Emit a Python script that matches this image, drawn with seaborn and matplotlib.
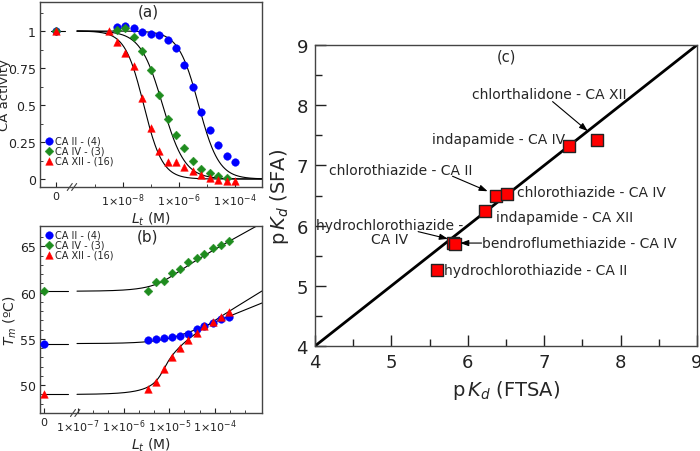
import numpy as np
import pandas as pd
import seaborn as sns
import matplotlib.pyplot as plt

# ---------------- panel (a): CA activity vs total ligand concentration (M)
conc_a = [3.1e-9, 6.1e-9, 1.22e-8, 2.44e-8, 4.9e-8, 9.8e-8, 1.95e-7, 3.9e-7,
          7.8e-7, 1.56e-6, 3.13e-6, 6.25e-6, 1.25e-5, 2.5e-5, 5e-5, 1e-4]
act_ca2 = [1.03, 1.035, 1.02, 0.99, 0.98, 0.975, 0.94, 0.885, 0.77, 0.625,
           0.455, 0.333, 0.23, 0.157, 0.117]                      # conc_a[1:]
act_ca4 = [1.01, 1.018, 0.957, 0.867, 0.739, 0.57, 0.405, 0.30, 0.207,
           0.124, 0.07, 0.04, 0.017, 0.005]                       # conc_a[1:15]
act_ca12 = [1.0, 0.923, 0.851, 0.761, 0.547, 0.345, 0.19, 0.115, 0.118,
            0.083, 0.051, 0.024, 0.007, -0.006, -0.011, -0.016]   # conc_a
act_zero = [1.0, 1.0, 1.0]
ic50_a = [5.0e-6, 2.6e-7, 5.5e-8]
hill_a = [1.2, 1.1, 1.3]

# ---------------- panel (b): Tm vs total ligand concentration (M)
conc_b = [3.5e-6, 5.2e-6, 7.8e-6, 1.17e-5, 1.76e-5, 2.63e-5, 3.95e-5,
          5.9e-5, 8.9e-5, 1.33e-4, 2e-4]
tm_ca2 = [54.9, 54.97, 55.08, 55.22, 55.33, 55.58, 56.05, 56.41, 56.77, 57.13, 57.42]
tm_ca4 = [60.15, 61.2, 61.3, 62.1, 62.6, 63.3, 63.7, 64.2, 64.85, 65.2, 65.6]
tm_ca12 = [49.6, 50.35, 51.7, 53.1, 54.05, 54.9, 55.6, 56.35, 56.8, 57.4, 57.95]
tm_zero = [54.5, 60.15, 49.0]
# fit params: slope per decade, Kd (M), protein conc (M)
slope_b = [2.0, 2.7, 3.0]
kd_b = [6.9e-6, 2.0e-6, 2.0e-7]
prot_b = [7e-6, 7e-6, 7e-6]

series = ['CA II - (4)', 'CA IV - (3)', 'CA XII - (16)']
colors = ['#0000ff', '#1e8c1e', '#ff0000']
markers = ['o', 'D', '^']

# ---------------- panel (c): pKd SFA vs FTSA
pkd_ftsa = [7.69, 7.33, 6.37, 6.51, 6.23, 5.80, 5.83, 5.60]
pkd_sfa = [7.43, 7.33, 6.50, 6.52, 6.24, 5.71, 5.69, 5.26]
pairs = ['chlorthalidone - CA XII', 'indapamide - CA IV', 'chlorothiazide - CA II',
         'chlorothiazide - CA IV', 'indapamide - CA XII', 'hydrochlorothiazide -\nCA IV',
         'bendroflumethiazide - CA IV', 'hydrochlorothiazide - CA II']


def hill(L, ic50, n):
    return 1.0 / (1.0 + (L / ic50) ** n)


def tm_fit(L, t0, s, kd, p):
    b = L - p - kd
    lf = 0.5 * (b + np.sqrt(b * b + 4 * kd * L))
    return t0 + s * np.log10(1 + lf / kd)


sns.set_style('ticks')
plt.rcParams['font.family'] = ['DejaVu Sans']
plt.rcParams['axes.edgecolor'] = '#444444'
plt.rcParams['axes.linewidth'] = 1.0

fig = plt.figure(figsize=(7, 4.52), dpi=100)
ax_a = fig.add_axes([40 / 700, 1 - 188 / 452, 222 / 700, 185 / 452])
ax_b = fig.add_axes([40 / 700, 1 - 414 / 452, 222 / 700, 187 / 452])
ax_c = fig.add_axes([315 / 700, 1 - 347 / 452, 382 / 700, 301 / 452])

ZERO_A, BREAK_A, START_A = -10.39, -9.82, -9.64
XLIM_A = (-10.96, -3.04)
ZERO_B, BREAK_B, START_B = -7.74, -7.06, -7.02
XLIM_B = (-7.83, -2.97)


def break_marks(ax, pos, px_per_unit, ax_h_px):
    tr = ax.get_xaxis_transform()
    for off in (-2.2, 2.2):
        c = pos + off / px_per_unit
        ax.plot([c - 2.5 / px_per_unit, c + 2.5 / px_per_unit],
                [-3.5 / ax_h_px, 3.5 / ax_h_px], transform=tr, color='#444444',
                lw=0.8, clip_on=False)


def legend_small(ax, **kw):
    ax.legend(frameon=False, fontsize=7, labelspacing=0.0, handletextpad=0.05,
              handlelength=1.0, borderpad=0.2, **kw)


# ---- panel (a)
a_sets = [(conc_a[1:], act_ca2), (conc_a[1:15], act_ca4), (conc_a, act_ca12)]
u_a = np.linspace(START_A, XLIM_A[1], 300)
for i in range(3):
    curve = pd.DataFrame({'x': u_a, 'y': hill(10 ** u_a, ic50_a[i], hill_a[i])})
    sns.lineplot(data=curve, x='x', y='y', ax=ax_a, color='black', lw=0.8,
                 estimator=None, sort=False)
ax_a.plot([ZERO_A - 0.18, ZERO_A + 0.32], [1, 1], color='black', lw=0.8)
for i in range(3):
    c, v = a_sets[i]
    sz = 20 if markers[i] == 'D' else 30
    df = pd.DataFrame({'x': np.log10(c), 'y': v})
    sns.scatterplot(data=df, x='x', y='y', ax=ax_a, color=colors[i], marker=markers[i],
                    s=sz, edgecolor=colors[i], linewidth=0.3, label=series[i], zorder=3)
    sns.scatterplot(x=[ZERO_A], y=[act_zero[i]], ax=ax_a, color=colors[i],
                    marker=markers[i], s=sz, edgecolor=colors[i], linewidth=0.3, zorder=3)
ax_a.set_xlim(*XLIM_A)
ax_a.set_ylim(-0.054, 1.196)
ax_a.set_xticks([ZERO_A, -8, -6, -4])
ax_a.set_xticklabels(['0', r'1$\times$10$^{-8}$', r'1$\times$10$^{-6}$', r'1$\times$10$^{-4}$'])
ax_a.set_xticks([-9, -7, -5], minor=True)
ax_a.set_yticks([0, 0.25, 0.5, 0.75, 1])
ax_a.set_yticklabels(['0', '0.25', '0.5', '0.75', '1'])
ax_a.set_yticks(np.arange(0.125, 1.2, 0.25), minor=True)
ax_a.set_xlabel(r'$L_t$ (M)', fontsize=10, labelpad=1)
ax_a.set_ylabel('CA activity', fontsize=9.5)
ax_a.yaxis.set_label_coords(-0.13, 0.5)
ax_a.text(0.486, 0.95, '(a)', transform=ax_a.transAxes, ha='center', va='center', fontsize=11)
break_marks(ax_a, BREAK_A, 28.0, 185)
legend_small(ax_a, loc='lower left', bbox_to_anchor=(-0.01, 0.08))

# ---- panel (b)
b_sets = [tm_ca2, tm_ca4, tm_ca12]
u_b = np.linspace(START_B, XLIM_B[1], 300)
for i in range(3):
    curve = pd.DataFrame({'x': u_b, 'y': tm_fit(10 ** u_b, tm_zero[i], slope_b[i], kd_b[i], prot_b[i])})
    sns.lineplot(data=curve, x='x', y='y', ax=ax_b, color='black', lw=0.8,
                 estimator=None, sort=False)
    ax_b.plot([ZERO_B, ZERO_B + 0.53], [tm_zero[i], tm_zero[i]], color='black', lw=0.8)
for i in range(3):
    sz = 20 if markers[i] == 'D' else 30
    df = pd.DataFrame({'x': np.log10(conc_b), 'y': b_sets[i]})
    sns.scatterplot(data=df, x='x', y='y', ax=ax_b, color=colors[i], marker=markers[i],
                    s=sz, edgecolor=colors[i], linewidth=0.3, label=series[i], zorder=3)
    sns.scatterplot(x=[ZERO_B], y=[tm_zero[i]], ax=ax_b, color=colors[i],
                    marker=markers[i], s=sz, edgecolor=colors[i], linewidth=0.3, zorder=3)
ax_b.set_xlim(*XLIM_B)
ax_b.set_ylim(47.0, 67.2)
ax_b.set_xticks([ZERO_B, -7, -6, -5, -4])
ax_b.set_xticklabels(['0', r'1$\times$10$^{-7}$', r'1$\times$10$^{-6}$',
                      r'1$\times$10$^{-5}$', r'1$\times$10$^{-4}$'])
ax_b.set_xticks([d + f for d in range(-7, -2) for f in (1 / 3, 2 / 3) if d + f < XLIM_B[1]],
                minor=True)
ax_b.set_yticks([50, 55, 60, 65])
ax_b.set_yticks(np.arange(48, 67, 1), minor=True)
ax_b.set_xlabel(r'$L_t$ (M)', fontsize=10, labelpad=1)
ax_b.set_ylabel(r'$T_m$ (ºC)', fontsize=10)
ax_b.yaxis.set_label_coords(-0.095, 0.5)
ax_b.text(0.486, 0.947, '(b)', transform=ax_b.transAxes, ha='center', va='center', fontsize=11)
break_marks(ax_b, BREAK_B, 45.7, 187)
legend_small(ax_b, loc='upper left', bbox_to_anchor=(-0.01, 1.02))

for ax in (ax_a, ax_b):
    ax.tick_params(which='both', direction='in', labelsize=9, pad=3, colors='#222222')
    ax.tick_params(axis='x', labelsize=8)
    ax.tick_params(which='major', length=3.5, width=0.8)
    ax.tick_params(which='minor', length=2, width=0.6)

# ---- panel (c)
sns.lineplot(x=[4, 9], y=[4, 9], ax=ax_c, color='black', lw=2, zorder=2)
df_c = pd.DataFrame({'ftsa': pkd_ftsa, 'sfa': pkd_sfa, 'pair': pairs})
sns.scatterplot(data=df_c, x='ftsa', y='sfa', ax=ax_c, marker='s', s=75, color='#ff0000',
                edgecolor='#222222', linewidth=1.0, zorder=3, legend=False)

arrow = dict(arrowstyle='-|>,head_length=0.5,head_width=0.18', color='black', lw=0.8,
             shrinkA=0, shrinkB=0)
fs = 10
ax_c.text(7.07, 8.19, pairs[0], ha='center', va='center', fontsize=fs)
ax_c.annotate('', xy=(7.57, 7.57), xytext=(7.11, 8.06), arrowprops=arrow)
ax_c.text(7.27, 7.44, pairs[1], ha='right', va='center', fontsize=fs)
ax_c.text(5.12, 6.92, pairs[2], ha='center', va='center', fontsize=fs)
ax_c.annotate('', xy=(6.26, 6.57), xytext=(5.80, 6.82), arrowprops=arrow)
ax_c.text(6.65, 6.55, pairs[3], ha='left', va='center', fontsize=fs)
ax_c.text(6.37, 6.15, pairs[4], ha='left', va='center', fontsize=fs)
ax_c.text(4.98, 5.89, pairs[5], ha='center', va='center', ma='center', fontsize=fs,
          linespacing=1.0)
ax_c.annotate('', xy=(5.74, 5.78), xytext=(5.35, 5.90), arrowprops=arrow)
ax_c.text(6.18, 5.71, pairs[6], ha='left', va='center', fontsize=fs)
ax_c.annotate('', xy=(5.90, 5.71), xytext=(6.18, 5.71), arrowprops=arrow)
ax_c.text(5.69, 5.26, pairs[7], ha='left', va='center', fontsize=fs)
ax_c.text(6.51, 8.81, '(c)', ha='center', va='center', fontsize=10.5)

ax_c.set_xlim(4, 9)
ax_c.set_ylim(4, 9)
ax_c.set_xticks(range(4, 10))
ax_c.set_yticks(range(4, 10))
ax_c.set_xticks(np.arange(4.5, 9, 1), minor=True)
ax_c.set_yticks(np.arange(4.5, 9, 1), minor=True)
ax_c.tick_params(which='both', direction='in', labelsize=13, colors='#222222', pad=5)
ax_c.tick_params(which='major', length=8, width=1.0)
ax_c.tick_params(which='minor', length=5, width=1.0)
ax_c.set_xlabel(r'p$\,K_d$ (FTSA)', fontsize=14, labelpad=5)
ax_c.set_ylabel(r'p$\,K_d$ (SFA)', fontsize=14, labelpad=4)

fig.savefig('out.png', dpi=100)
